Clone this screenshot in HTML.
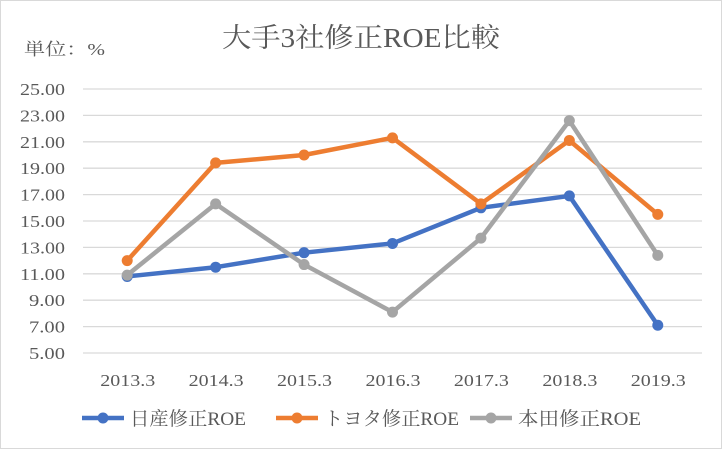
<!DOCTYPE html>
<html><head><meta charset="utf-8"><style>
body{margin:0;background:#fff}
svg{display:block;font-family:"Liberation Serif","Noto Serif CJK SC",serif}
</style></head><body>
<svg width="722" height="449" viewBox="0 0 722 449">
<rect x="0.5" y="0.5" width="721" height="448" fill="#fff" stroke="#d9d9d9"/>
<text x="222" y="47" font-size="27" textLength="278" lengthAdjust="spacingAndGlyphs" fill="#595959">大手3社修正ROE比較</text>
<text x="24" y="55" font-size="17" textLength="81" lengthAdjust="spacingAndGlyphs" fill="#595959">単位：%</text>
<g id="grid"></g><g id="yt"></g><g id="xt"></g><g id="series"></g>
<g id="legend"></g>
</svg>
<script>
const categories=["2013.3","2014.3","2015.3","2016.3","2017.3","2018.3","2019.3"];
const yTicks=[5,7,9,11,13,15,17,19,21,23,25];
const nissan=[10.8,11.5,12.6,13.3,16.0,16.9,7.1];
const toyota=[12.0,19.4,20.0,21.3,16.3,21.1,15.5];
const honda=[10.9,16.3,11.7,8.1,13.7,22.6,12.4];
const seriesNames=["日産修正ROE","トヨタ修正ROE","本田修正ROE"];
const NS="http://www.w3.org/2000/svg";
const L=83,R=702,T=89,B=353;
const y=v=>B-(v-5)/20*(B-T);
const x=i=>L+(R-L)/categories.length*(i+0.5);
function mk(t,a,p){const e=document.createElementNS(NS,t);for(const k in a)e.setAttribute(k,a[k]);p.appendChild(e);return e;}
const g=document.getElementById('grid'),yt=document.getElementById('yt'),xt=document.getElementById('xt');
yTicks.forEach(v=>{
 const l=mk('line',{x1:L,x2:R,y1:y(v),y2:y(v),stroke:'#d9d9d9','stroke-width':1.3},g);
 
 
 const s=v.toFixed(2);
 const w=s.length===5?45:36;
 const t=mk('text',{x:65-w,y:y(v)+6,'font-size':17,textLength:w,lengthAdjust:'spacingAndGlyphs',fill:'#595959'},yt);
 t.textContent=s;
 
 
});
categories.forEach((c,i)=>{
 const t=mk('text',{x:x(i)-27,y:386,'font-size':17,textLength:55,lengthAdjust:'spacingAndGlyphs',fill:'#595959'},xt);
 t.textContent=c;
 
 
});
const data=[nissan,toyota,honda],cols=["#4472c4","#ed7d31","#a5a5a5"],sg=document.getElementById('series');
data.forEach((d,s)=>{
 const gg=mk('g',{},sg);
 
 
 const p=mk('polyline',{points:d.map((v,i)=>x(i)+','+y(v)).join(' '),fill:'none',stroke:cols[s],'stroke-width':4.5,'stroke-linejoin':'round'},gg);
 
 
 d.forEach((v,i)=>{
  const c=mk('circle',{cx:x(i),cy:y(v),r:5.5,fill:cols[s]},gg);
  
  
 });
});
const lg=document.getElementById('legend'),lx=[82,276,470],lw=[116,135,123];
seriesNames.forEach((n,s)=>{
 const e=mk('g',{},lg);
 
 
 mk('line',{x1:lx[s],x2:lx[s]+42,y1:418,y2:418,stroke:cols[s],'stroke-width':4.5},e);
 mk('circle',{cx:lx[s]+21,cy:418,r:5.5,fill:cols[s]},e);
 const t=mk('text',{x:lx[s]+48,y:425,'font-size':19,textLength:lw[s],lengthAdjust:'spacingAndGlyphs',fill:'#595959'},e);
 t.textContent=n;
});
</script>
</body></html>
